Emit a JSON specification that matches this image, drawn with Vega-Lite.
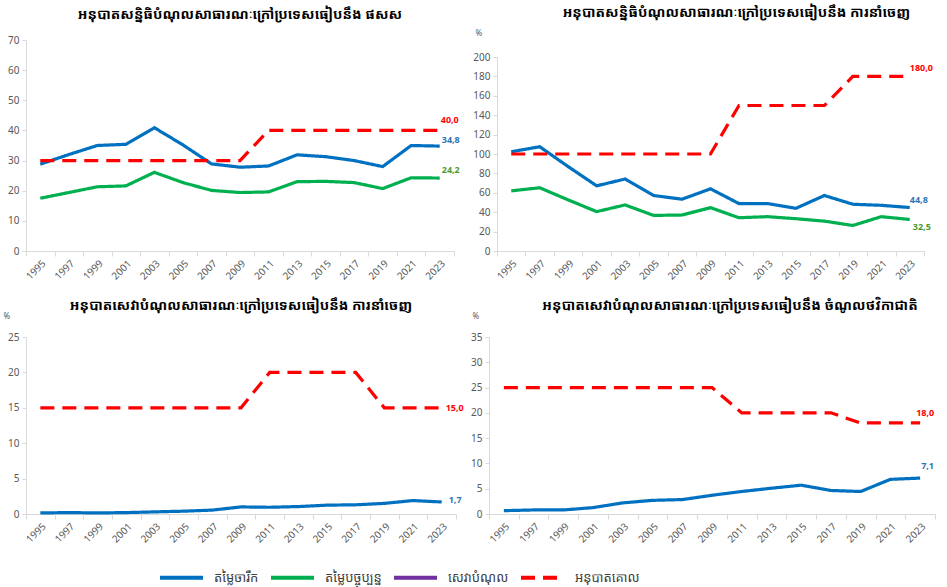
{
  "$schema": "https://vega.github.io/schema/vega-lite/v6.json",
  "padding": {"left": 3, "top": 6, "right": 5, "bottom": 2},
  "config": {
    "locale": {"number": {"decimal": ",", "thousands": ".", "grouping": [3], "currency": ["", ""]}},
    "view": {"stroke": null},
    "font": "Noto Sans",
    "axis": {"domainColor": "#d9d9d9", "tickColor": "#d9d9d9", "labelColor": "#595959", "labelFont": "Noto Sans", "labelFontSize": 10, "grid": false, "titleFont": "Noto Sans", "titleColor": "#595959"},
    "title": {"font": "Noto Sans Khmer, Khmer OS System, Noto Sans", "fontSize": 14, "fontWeight": "bold", "color": "#000000", "anchor": "middle"},
    "legend": {"orient": "none", "legendX": 132, "legendY": 514, "direction": "horizontal", "symbolType": "stroke", "symbolSize": 1849, "symbolStrokeWidth": 4, "labelFont": "Noto Sans Khmer, Khmer OS System, Noto Sans", "labelFontSize": 13, "labelColor": "#404040", "labelOffset": 9, "columnPadding": 4}
  },
  "data": {"values": [
    {"panel":1,"year":"1995","series":"តម្លៃចារឹក","value":28.8},{"panel":1,"year":"1997","series":"តម្លៃចារឹក","value":32},{"panel":1,"year":"1999","series":"តម្លៃចារឹក","value":35},{"panel":1,"year":"2001","series":"តម្លៃចារឹក","value":35.4},{"panel":1,"year":"2003","series":"តម្លៃចារឹក","value":40.9},{"panel":1,"year":"2005","series":"តម្លៃចារឹក","value":35.2},{"panel":1,"year":"2007","series":"តម្លៃចារឹក","value":28.9},{"panel":1,"year":"2009","series":"តម្លៃចារឹក","value":27.8},{"panel":1,"year":"2011","series":"តម្លៃចារឹក","value":28.2},{"panel":1,"year":"2013","series":"តម្លៃចារឹក","value":31.9},{"panel":1,"year":"2015","series":"តម្លៃចារឹក","value":31.3},{"panel":1,"year":"2017","series":"តម្លៃចារឹក","value":30},{"panel":1,"year":"2019","series":"តម្លៃចារឹក","value":28},{"panel":1,"year":"2021","series":"តម្លៃចារឹក","value":35},{"panel":1,"year":"2023","series":"តម្លៃចារឹក","value":34.8},
    {"panel":1,"year":"1995","series":"តម្លៃបច្ចុប្បន្ន","value":17.5},{"panel":1,"year":"1997","series":"តម្លៃបច្ចុប្បន្ន","value":19.4},{"panel":1,"year":"1999","series":"តម្លៃបច្ចុប្បន្ន","value":21.3},{"panel":1,"year":"2001","series":"តម្លៃបច្ចុប្បន្ន","value":21.6},{"panel":1,"year":"2003","series":"តម្លៃបច្ចុប្បន្ន","value":26.1},{"panel":1,"year":"2005","series":"តម្លៃបច្ចុប្បន្ន","value":22.7},{"panel":1,"year":"2007","series":"តម្លៃបច្ចុប្បន្ន","value":20.1},{"panel":1,"year":"2009","series":"តម្លៃបច្ចុប្បន្ន","value":19.4},{"panel":1,"year":"2011","series":"តម្លៃបច្ចុប្បន្ន","value":19.6},{"panel":1,"year":"2013","series":"តម្លៃបច្ចុប្បន្ន","value":23},{"panel":1,"year":"2015","series":"តម្លៃបច្ចុប្បន្ន","value":23.1},{"panel":1,"year":"2017","series":"តម្លៃបច្ចុប្បន្ន","value":22.7},{"panel":1,"year":"2019","series":"តម្លៃបច្ចុប្បន្ន","value":20.7},{"panel":1,"year":"2021","series":"តម្លៃបច្ចុប្បន្ន","value":24.3},{"panel":1,"year":"2023","series":"តម្លៃបច្ចុប្បន្ន","value":24.2},
    {"panel":1,"year":"1995","series":"អនុបាតគោល","value":30},{"panel":1,"year":"1997","series":"អនុបាតគោល","value":30},{"panel":1,"year":"1999","series":"អនុបាតគោល","value":30},{"panel":1,"year":"2001","series":"អនុបាតគោល","value":30},{"panel":1,"year":"2003","series":"អនុបាតគោល","value":30},{"panel":1,"year":"2005","series":"អនុបាតគោល","value":30},{"panel":1,"year":"2007","series":"អនុបាតគោល","value":30},{"panel":1,"year":"2009","series":"អនុបាតគោល","value":30},{"panel":1,"year":"2011","series":"អនុបាតគោល","value":40},{"panel":1,"year":"2013","series":"អនុបាតគោល","value":40},{"panel":1,"year":"2015","series":"អនុបាតគោល","value":40},{"panel":1,"year":"2017","series":"អនុបាតគោល","value":40},{"panel":1,"year":"2019","series":"អនុបាតគោល","value":40},{"panel":1,"year":"2021","series":"អនុបាតគោល","value":40},{"panel":1,"year":"2023","series":"អនុបាតគោល","value":40},
    {"panel":2,"year":"1995","series":"តម្លៃចារឹក","value":102.3},{"panel":2,"year":"1997","series":"តម្លៃចារឹក","value":107.5},{"panel":2,"year":"1999","series":"តម្លៃចារឹក","value":87},{"panel":2,"year":"2001","series":"តម្លៃចារឹក","value":67.2},{"panel":2,"year":"2003","series":"តម្លៃចារឹក","value":74.2},{"panel":2,"year":"2005","series":"តម្លៃចារឹក","value":57.2},{"panel":2,"year":"2007","series":"តម្លៃចារឹក","value":53.4},{"panel":2,"year":"2009","series":"តម្លៃចារឹក","value":64.1},{"panel":2,"year":"2011","series":"តម្លៃចារឹក","value":48.9},{"panel":2,"year":"2013","series":"តម្លៃចារឹក","value":48.9},{"panel":2,"year":"2015","series":"តម្លៃចារឹក","value":44},{"panel":2,"year":"2017","series":"តម្លៃចារឹក","value":57.2},{"panel":2,"year":"2019","series":"តម្លៃចារឹក","value":48.2},{"panel":2,"year":"2021","series":"តម្លៃចារឹក","value":47.1},{"panel":2,"year":"2023","series":"តម្លៃចារឹក","value":44.8},
    {"panel":2,"year":"1995","series":"តម្លៃបច្ចុប្បន្ន","value":62},{"panel":2,"year":"1997","series":"តម្លៃបច្ចុប្បន្ន","value":65.2},{"panel":2,"year":"1999","series":"តម្លៃបច្ចុប្បន្ន","value":52.7},{"panel":2,"year":"2001","series":"តម្លៃបច្ចុប្បន្ន","value":40.6},{"panel":2,"year":"2003","series":"តម្លៃបច្ចុប្បន្ន","value":47.5},{"panel":2,"year":"2005","series":"តម្លៃបច្ចុប្បន្ន","value":36.7},{"panel":2,"year":"2007","series":"តម្លៃបច្ចុប្បន្ន","value":37.1},{"panel":2,"year":"2009","series":"តម្លៃបច្ចុប្បន្ន","value":44.7},{"panel":2,"year":"2011","series":"តម្លៃបច្ចុប្បន្ន","value":34.3},{"panel":2,"year":"2013","series":"តម្លៃបច្ចុប្បន្ន","value":35.4},{"panel":2,"year":"2015","series":"តម្លៃបច្ចុប្បន្ន","value":33.3},{"panel":2,"year":"2017","series":"តម្លៃបច្ចុប្បន្ន","value":30.8},{"panel":2,"year":"2019","series":"តម្លៃបច្ចុប្បន្ន","value":26.3},{"panel":2,"year":"2021","series":"តម្លៃបច្ចុប្បន្ន","value":35.4},{"panel":2,"year":"2023","series":"តម្លៃបច្ចុប្បន្ន","value":32.5},
    {"panel":2,"year":"1995","series":"អនុបាតគោល","value":100},{"panel":2,"year":"1997","series":"អនុបាតគោល","value":100},{"panel":2,"year":"1999","series":"អនុបាតគោល","value":100},{"panel":2,"year":"2001","series":"អនុបាតគោល","value":100},{"panel":2,"year":"2003","series":"អនុបាតគោល","value":100},{"panel":2,"year":"2005","series":"អនុបាតគោល","value":100},{"panel":2,"year":"2007","series":"អនុបាតគោល","value":100},{"panel":2,"year":"2009","series":"អនុបាតគោល","value":100},{"panel":2,"year":"2011","series":"អនុបាតគោល","value":150},{"panel":2,"year":"2013","series":"អនុបាតគោល","value":150},{"panel":2,"year":"2015","series":"អនុបាតគោល","value":150},{"panel":2,"year":"2017","series":"អនុបាតគោល","value":150},{"panel":2,"year":"2019","series":"អនុបាតគោល","value":180},{"panel":2,"year":"2021","series":"អនុបាតគោល","value":180},{"panel":2,"year":"2023","series":"អនុបាតគោល","value":180},
    {"panel":3,"year":"1995","series":"តម្លៃចារឹក","value":0.15},{"panel":3,"year":"1997","series":"តម្លៃចារឹក","value":0.2},{"panel":3,"year":"1999","series":"តម្លៃចារឹក","value":0.15},{"panel":3,"year":"2001","series":"តម្លៃចារឹក","value":0.2},{"panel":3,"year":"2003","series":"តម្លៃចារឹក","value":0.3},{"panel":3,"year":"2005","series":"តម្លៃចារឹក","value":0.4},{"panel":3,"year":"2007","series":"តម្លៃចារឹក","value":0.55},{"panel":3,"year":"2009","series":"តម្លៃចារឹក","value":1.0},{"panel":3,"year":"2011","series":"តម្លៃចារឹក","value":0.95},{"panel":3,"year":"2013","series":"តម្លៃចារឹក","value":1.05},{"panel":3,"year":"2015","series":"តម្លៃចារឹក","value":1.25},{"panel":3,"year":"2017","series":"តម្លៃចារឹក","value":1.3},{"panel":3,"year":"2019","series":"តម្លៃចារឹក","value":1.5},{"panel":3,"year":"2021","series":"តម្លៃចារឹក","value":1.9},{"panel":3,"year":"2023","series":"តម្លៃចារឹក","value":1.7},
    {"panel":3,"year":"1995","series":"អនុបាតគោល","value":15},{"panel":3,"year":"1997","series":"អនុបាតគោល","value":15},{"panel":3,"year":"1999","series":"អនុបាតគោល","value":15},{"panel":3,"year":"2001","series":"អនុបាតគោល","value":15},{"panel":3,"year":"2003","series":"អនុបាតគោល","value":15},{"panel":3,"year":"2005","series":"អនុបាតគោល","value":15},{"panel":3,"year":"2007","series":"អនុបាតគោល","value":15},{"panel":3,"year":"2009","series":"អនុបាតគោល","value":15},{"panel":3,"year":"2011","series":"អនុបាតគោល","value":20},{"panel":3,"year":"2013","series":"អនុបាតគោល","value":20},{"panel":3,"year":"2015","series":"អនុបាតគោល","value":20},{"panel":3,"year":"2017","series":"អនុបាតគោល","value":20},{"panel":3,"year":"2019","series":"អនុបាតគោល","value":15},{"panel":3,"year":"2021","series":"អនុបាតគោល","value":15},{"panel":3,"year":"2023","series":"អនុបាតគោល","value":15},
    {"panel":4,"year":"1995","series":"តម្លៃចារឹក","value":0.66},{"panel":4,"year":"1997","series":"តម្លៃចារឹក","value":0.8},{"panel":4,"year":"1999","series":"តម្លៃចារឹក","value":0.8},{"panel":4,"year":"2001","series":"តម្លៃចារឹក","value":1.26},{"panel":4,"year":"2003","series":"តម្លៃចារឹក","value":2.2},{"panel":4,"year":"2005","series":"តម្លៃចារឹក","value":2.7},{"panel":4,"year":"2007","series":"តម្លៃចារឹក","value":2.85},{"panel":4,"year":"2009","series":"តម្លៃចារឹក","value":3.7},{"panel":4,"year":"2011","series":"តម្លៃចារឹក","value":4.45},{"panel":4,"year":"2013","series":"តម្លៃចារឹក","value":5.1},{"panel":4,"year":"2015","series":"តម្លៃចារឹក","value":5.7},{"panel":4,"year":"2017","series":"តម្លៃចារឹក","value":4.65},{"panel":4,"year":"2019","series":"តម្លៃចារឹក","value":4.45},{"panel":4,"year":"2021","series":"តម្លៃចារឹក","value":6.85},{"panel":4,"year":"2023","series":"តម្លៃចារឹក","value":7.1},
    {"panel":4,"year":"1995","series":"អនុបាតគោល","value":25},{"panel":4,"year":"1997","series":"អនុបាតគោល","value":25},{"panel":4,"year":"1999","series":"អនុបាតគោល","value":25},{"panel":4,"year":"2001","series":"អនុបាតគោល","value":25},{"panel":4,"year":"2003","series":"អនុបាតគោល","value":25},{"panel":4,"year":"2005","series":"អនុបាតគោល","value":25},{"panel":4,"year":"2007","series":"អនុបាតគោល","value":25},{"panel":4,"year":"2009","series":"អនុបាតគោល","value":25},{"panel":4,"year":"2011","series":"អនុបាតគោល","value":20},{"panel":4,"year":"2013","series":"អនុបាតគោល","value":20},{"panel":4,"year":"2015","series":"អនុបាតគោល","value":20},{"panel":4,"year":"2017","series":"អនុបាតគោល","value":20},{"panel":4,"year":"2019","series":"អនុបាតគោល","value":18},{"panel":4,"year":"2021","series":"អនុបាតគោល","value":18},{"panel":4,"year":"2023","series":"អនុបាតគោល","value":18}
  ]},
  "spacing": 17,
  "resolve": {"scale": {"color": "shared", "strokeDash": "shared"}},
  "vconcat": [
    {"hconcat": [
      {
        "width": 428, "height": 211,
        "title": {"text": "អនុបាតសន្និធិបំណុលសាធារណៈក្រៅប្រទេសធៀបនឹង ផសស", "offset": 13},
        "transform": [{"filter": "datum.panel == 1"}],
        "encoding": {
          "x": {"field": "year", "type": "ordinal", "bandPosition": 0.5, "scale": {"type": "band", "paddingInner": 0, "paddingOuter": 0}, "axis": {"title": null, "labelAngle": -45, "tickBand": "extent", "tickSize": 5, "labelPadding": 2}},
          "y": {"field": "value", "type": "quantitative", "scale": {"domain": [0, 70]}, "axis": {"title": null, "values": [0,10,20,30,40,50,60,70], "tickSize": 4, "labelPadding": 3}}
        },
        "layer": [
          {"mark": {"type": "line", "strokeWidth": 3.2},
           "encoding": {
             "color": {"field": "series", "type": "nominal", "scale": {"domain": ["តម្លៃចារឹក","តម្លៃបច្ចុប្បន្ន","សេវាបំណុល","អនុបាតគោល"], "range": ["#0070c0","#00b050","#7030a0","#ff0000"]}, "legend": {"title": null}},
             "strokeDash": {"field": "series", "type": "nominal", "scale": {"domain": ["តម្លៃចារឹក","តម្លៃបច្ចុប្បន្ន","សេវាបំណុល","អនុបាតគោល"], "range": [[1,0],[1,0],[1,0],[14,8]]}, "legend": {"title": null}}
           }},
          {"transform": [{"filter": "datum.year == '2023' && datum.series == 'អនុបាតគោល'"}], "mark": {"type": "text", "align": "left", "dx": 1, "dy": -10, "fontSize": 9, "fontWeight": "bold", "color": "#ff0000"}, "encoding": {"text": {"field": "value", "type": "quantitative", "format": ".1f"}}},
          {"transform": [{"filter": "datum.year == '2023' && datum.series == 'តម្លៃចារឹក'"}], "mark": {"type": "text", "align": "left", "dx": 2, "dy": -6, "fontSize": 9, "fontWeight": "bold", "color": "#2e75b6"}, "encoding": {"text": {"field": "value", "type": "quantitative", "format": ".1f"}}},
          {"transform": [{"filter": "datum.year == '2023' && datum.series == 'តម្លៃបច្ចុប្បន្ន'"}], "mark": {"type": "text", "align": "left", "dx": 2, "dy": -8, "fontSize": 9, "fontWeight": "bold", "color": "#4f9a2e"}, "encoding": {"text": {"field": "value", "type": "quantitative", "format": ".1f"}}}
        ]
      },
      {
        "width": 427, "height": 211,
        "title": {"text": "អនុបាតសន្និធិបំណុលសាធារណៈក្រៅប្រទេសធៀបនឹង ការនាំចេញ", "offset": 9, "dx": 26},
        "transform": [{"filter": "datum.panel == 2"}],
        "encoding": {
          "x": {"field": "year", "type": "ordinal", "bandPosition": 0.5, "scale": {"type": "band", "paddingInner": 0, "paddingOuter": 0}, "axis": {"title": null, "labelAngle": -45, "tickBand": "extent", "tickSize": 5, "labelPadding": 2}},
          "y": {"field": "value", "type": "quantitative", "scale": {"domain": [0, 200], "range": [211, 17]}, "axis": {"title": "%", "titleAngle": 0, "titleX": -22, "titleY": -7, "titleFontSize": 8, "titleFontWeight": "normal", "titleAlign": "left", "titleBaseline": "middle", "values": [0,20,40,60,80,100,120,140,160,180,200], "tickSize": 4, "labelPadding": 3}}
        },
        "layer": [
          {"mark": {"type": "line", "strokeWidth": 3.2},
           "encoding": {
             "color": {"field": "series", "type": "nominal", "scale": {"domain": ["តម្លៃចារឹក","តម្លៃបច្ចុប្បន្ន","សេវាបំណុល","អនុបាតគោល"], "range": ["#0070c0","#00b050","#7030a0","#ff0000"]}, "legend": {"title": null}},
             "strokeDash": {"field": "series", "type": "nominal", "scale": {"domain": ["តម្លៃចារឹក","តម្លៃបច្ចុប្បន្ន","សេវាបំណុល","អនុបាតគោល"], "range": [[1,0],[1,0],[1,0],[14,8]]}, "legend": {"title": null}}
           }},
          {"transform": [{"filter": "datum.year == '2023' && datum.series == 'អនុបាតគោល'"}], "mark": {"type": "text", "align": "left", "dx": 0, "dy": -8, "fontSize": 9, "fontWeight": "bold", "color": "#ff0000"}, "encoding": {"text": {"field": "value", "type": "quantitative", "format": ".1f"}}},
          {"transform": [{"filter": "datum.year == '2023' && datum.series == 'តម្លៃចារឹក'"}], "mark": {"type": "text", "align": "left", "dx": 0, "dy": -8, "fontSize": 9, "fontWeight": "bold", "color": "#2e75b6"}, "encoding": {"text": {"field": "value", "type": "quantitative", "format": ".1f"}}},
          {"transform": [{"filter": "datum.year == '2023' && datum.series == 'តម្លៃបច្ចុប្បន្ន'"}], "mark": {"type": "text", "align": "left", "dx": 3, "dy": 8, "fontSize": 9, "fontWeight": "bold", "color": "#4f9a2e"}, "encoding": {"text": {"field": "value", "type": "quantitative", "format": ".1f"}}}
        ]
      }
    ], "spacing": 43, "bounds": "flush"},
    {"hconcat": [
      {
        "width": 430, "height": 177,
        "title": {"text": "អនុបាតសេវាបំណុលសាធារណៈក្រៅប្រទេសធៀបនឹង ការនាំចេញ", "offset": 2, "dy": 3},
        "transform": [{"filter": "datum.panel == 3"}],
        "encoding": {
          "x": {"field": "year", "type": "ordinal", "bandPosition": 0.5, "scale": {"type": "band", "paddingInner": 0, "paddingOuter": 0}, "axis": {"title": null, "labelAngle": -45, "tickBand": "extent", "tickSize": 5, "labelPadding": 2}},
          "y": {"field": "value", "type": "quantitative", "scale": {"domain": [0, 25]}, "axis": {"title": "%", "titleAngle": 0, "titleX": -23, "titleY": -21, "titleFontSize": 8, "titleFontWeight": "normal", "titleAlign": "left", "titleBaseline": "middle", "values": [0,5,10,15,20,25], "tickSize": 4, "labelPadding": 3}}
        },
        "layer": [
          {"mark": {"type": "line", "strokeWidth": 3.2},
           "encoding": {
             "color": {"field": "series", "type": "nominal", "scale": {"domain": ["តម្លៃចារឹក","តម្លៃបច្ចុប្បន្ន","សេវាបំណុល","អនុបាតគោល"], "range": ["#0070c0","#00b050","#7030a0","#ff0000"]}, "legend": {"title": null}},
             "strokeDash": {"field": "series", "type": "nominal", "scale": {"domain": ["តម្លៃចារឹក","តម្លៃបច្ចុប្បន្ន","សេវាបំណុល","អនុបាតគោល"], "range": [[1,0],[1,0],[1,0],[14,8]]}, "legend": {"title": null}}
           }},
          {"transform": [{"filter": "datum.year == '2023' && datum.series == 'អនុបាតគោល'"}], "mark": {"type": "text", "align": "left", "dx": 4, "dy": 0, "fontSize": 9, "fontWeight": "bold", "color": "#ff0000"}, "encoding": {"text": {"field": "value", "type": "quantitative", "format": ".1f"}}},
          {"transform": [{"filter": "datum.year == '2023' && datum.series == 'តម្លៃចារឹក'"}], "mark": {"type": "text", "align": "left", "dx": 7, "dy": -2, "fontSize": 9, "fontWeight": "bold", "color": "#2e75b6"}, "encoding": {"text": {"field": "value", "type": "quantitative", "format": ".1f"}}}
        ]
      },
      {
        "width": 446, "height": 177,
        "title": {"text": "អនុបាតសេវាបំណុលសាធារណៈក្រៅប្រទេសធៀបនឹង ចំណូលថវិកាជាតិ", "offset": 2, "dx": 18, "dy": 3},
        "transform": [{"filter": "datum.panel == 4"}],
        "encoding": {
          "x": {"field": "year", "type": "ordinal", "bandPosition": 0.5, "scale": {"type": "band", "paddingInner": 0, "paddingOuter": 0}, "axis": {"title": null, "labelAngle": -45, "tickBand": "extent", "tickSize": 5, "labelPadding": 2}},
          "y": {"field": "value", "type": "quantitative", "scale": {"domain": [0, 35]}, "axis": {"title": "%", "titleAngle": 0, "titleX": -17, "titleY": -21, "titleFontSize": 8, "titleFontWeight": "normal", "titleAlign": "left", "titleBaseline": "middle", "values": [0,5,10,15,20,25,30,35], "tickSize": 4, "labelPadding": 3}}
        },
        "layer": [
          {"mark": {"type": "line", "strokeWidth": 3.2},
           "encoding": {
             "color": {"field": "series", "type": "nominal", "scale": {"domain": ["តម្លៃចារឹក","តម្លៃបច្ចុប្បន្ន","សេវាបំណុល","អនុបាតគោល"], "range": ["#0070c0","#00b050","#7030a0","#ff0000"]}, "legend": {"title": null}},
             "strokeDash": {"field": "series", "type": "nominal", "scale": {"domain": ["តម្លៃចារឹក","តម្លៃបច្ចុប្បន្ន","សេវាបំណុល","អនុបាតគោល"], "range": [[1,0],[1,0],[1,0],[14,8]]}, "legend": {"title": null}}
           }},
          {"transform": [{"filter": "datum.year == '2023' && datum.series == 'អនុបាតគោល'"}], "mark": {"type": "text", "align": "left", "dx": -4, "dy": -10, "fontSize": 9, "fontWeight": "bold", "color": "#ff0000"}, "encoding": {"text": {"field": "value", "type": "quantitative", "format": ".1f"}}},
          {"transform": [{"filter": "datum.year == '2023' && datum.series == 'តម្លៃចារឹក'"}], "mark": {"type": "text", "align": "left", "dx": 1, "dy": -12, "fontSize": 9, "fontWeight": "bold", "color": "#2e75b6"}, "encoding": {"text": {"field": "value", "type": "quantitative", "format": ".1f"}}}
        ]
      }
    ], "spacing": 33, "bounds": "flush"}
  ]
}
